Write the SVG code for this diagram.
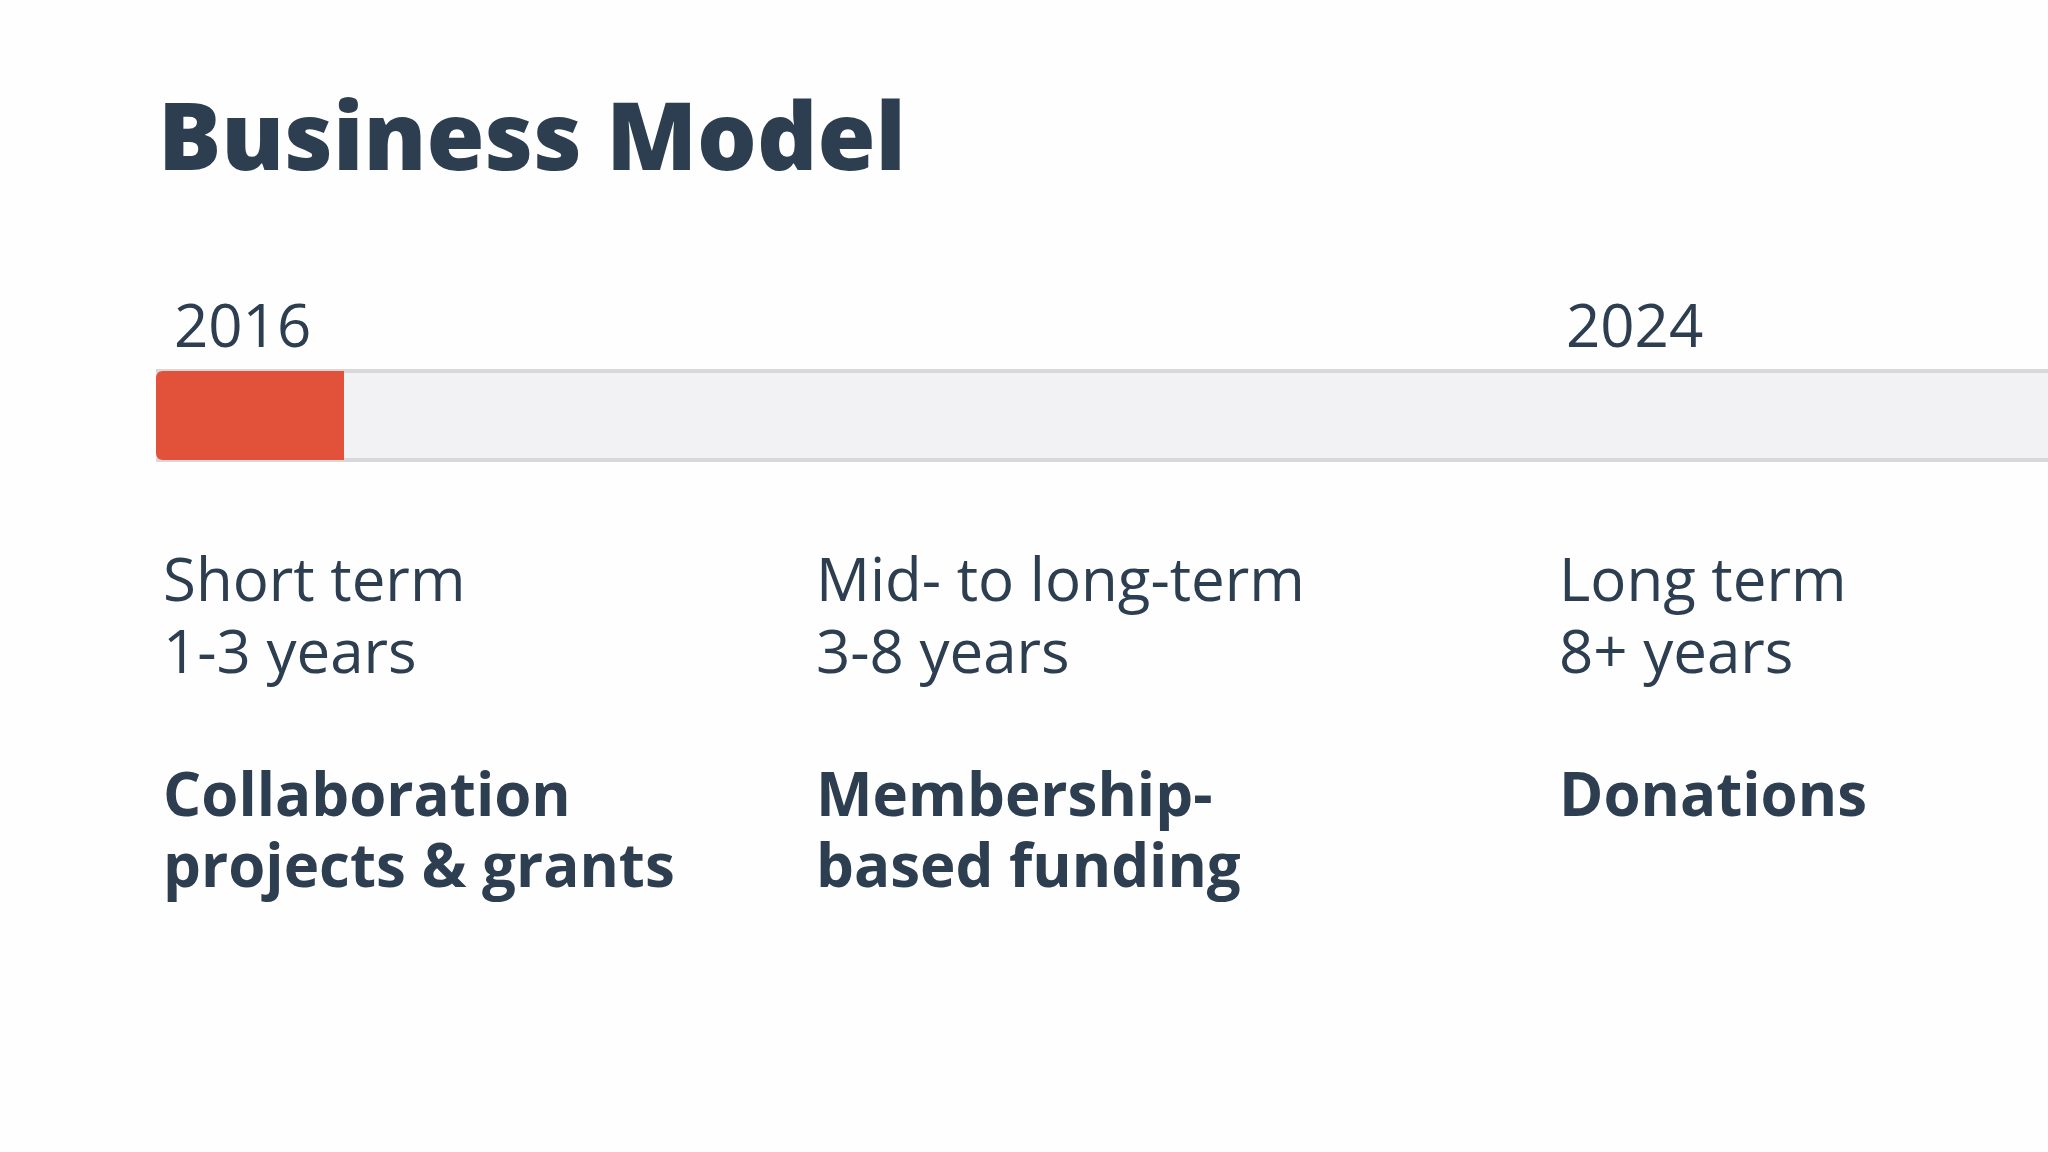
<svg xmlns="http://www.w3.org/2000/svg" width="2048" height="1152" viewBox="0 0 2048 1152">
  <style>
    .t { font-family: "Open Sans", "Noto Sans", "Liberation Sans", sans-serif; fill: #2c3e50; }
    .title { font-size: 94px; font-weight: 800; }
    .year { font-size: 60px; font-weight: 400; }
    .term { font-size: 60px; font-weight: 400; }
    .src { font-size: 60px; font-weight: 700; }
  </style>
  <rect x="0" y="0" width="2048" height="1152" fill="#fefefe"/>
  <g id="title">
    <text class="t title" x="158" y="170">Business Model</text>
  </g>
  <g id="timeline">
    <rect x="156" y="369" width="1900" height="93" fill="#f2f1f3"/>
    <rect x="156" y="369" width="1900" height="4" fill="#d8d7d9"/>
    <rect x="156" y="458" width="1900" height="4" fill="#d8d7d9"/>
    <path d="M344 371 H163 Q156 371 156 378 V453 Q156 460 163 460 H344 Z" fill="#e2513a"/>
    <text class="t year" x="174" y="347">2016</text>
    <text class="t year" x="1566" y="347">2024</text>
  </g>
  <g id="short-term">
    <text class="t term" x="163" y="601">Short term</text>
    <text class="t term" x="163" y="673">1-3 years</text>
    <text class="t src" x="163" y="816">Collaboration</text>
    <text class="t src" x="163" y="887">projects &amp; grants</text>
  </g>
  <g id="mid-term">
    <text class="t term" x="816" y="601">Mid- to long-term</text>
    <text class="t term" x="816" y="673">3-8 years</text>
    <text class="t src" x="816" y="816">Membership-</text>
    <text class="t src" x="816" y="887">based funding</text>
  </g>
  <g id="long-term">
    <text class="t term" x="1559" y="601">Long term</text>
    <text class="t term" x="1559" y="673">8+ years</text>
    <text class="t src" x="1559" y="816">Donations</text>
  </g>
  <g id="connectors"/>
</svg>
